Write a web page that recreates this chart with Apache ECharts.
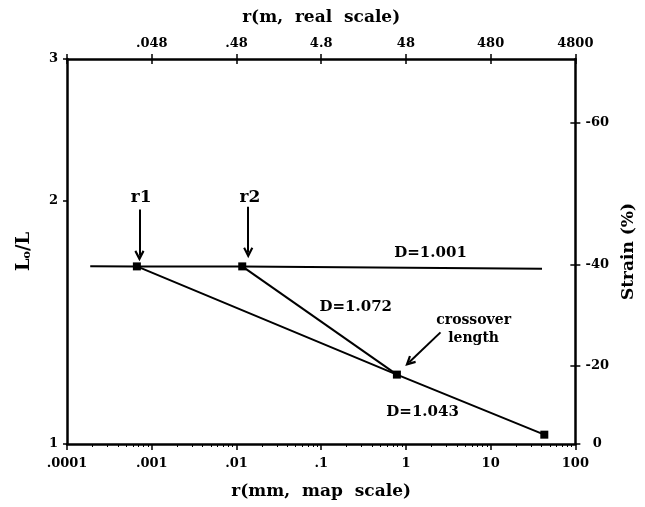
<!DOCTYPE html>
<html>
<head>
<meta charset="utf-8">
<script src="https://cdn.jsdelivr.net/npm/echarts@6/dist/echarts.min.js"></script>
<style>html,body{margin:0;padding:0;background:#fff}#c{width:645px;height:507px}</style>
</head>
<body>
<div id="c"></div>
<script>
// ---- data ----
const bottomTickLabels = ['.0001', '.001', '.01', '.1', '1', '10', '100'];
const topTickLabels = ['', '.048', '.48', '4.8', '48', '480', '4800'];
const leftTickValues = [1, 2, 3];
const strainTicks = [0, -20, -40, -60];

const d1001X = [1.88e-4, 6.68e-4, 0.0117, 40.4];
const d1001Y = [1.661, 1.660, 1.660, 1.649];
const d1072X = [0.0117, 0.783];
const d1072Y = [1.660, 1.219];
const d1043X = [6.68e-4, 0.783, 43.0];
const d1043Y = [1.660, 1.219, 1.027];
const pointX = [6.68e-4, 0.0117, 0.783, 43.0];
const pointY = [1.660, 1.660, 1.219, 1.027];

// annotation texts and anchors (data coordinates)
const noteTexts = ['r1', 'r2', 'D=1.001', 'D=1.072', 'D=1.043', 'crossover\nlength'];
const noteX = [7.5e-4, 0.01442, 1.954, 0.256, 1.574, 6.3];
const noteY = [2.02, 2.02, 1.726, 1.480, 1.094, 1.387];
const arrowFrom = [[7.16e-4, 1.952], [0.01377, 1.968], [2.56, 1.375]];
const arrowTo = [[7.16e-4, 1.711], [0.01377, 1.726], [1.094, 1.2625]];

const FF = '"DejaVu Serif", "Liberation Serif", serif';
const zip = (xs, ys) => xs.map((x, i) => [x, ys[i]]);
const decadeIndex = v => Math.round(Math.log10(v)) + 4;

const chart = echarts.init(document.getElementById('c'));
const black = '#000';
const axisLine = {show: true, lineStyle: {color: black, width: 2.5}};
const labelStyle = {color: black, fontFamily: FF, fontWeight: 'bold', fontSize: 13};
const nameStyle = {color: black, fontFamily: FF, fontWeight: 'bold', fontSize: 17};
const chevron = 'path://M5,0 L10,9 L8.2,10 L5,4.6 L1.8,10 L0,9 Z';
const strainPos = strainTicks.map(s => 100 / (100 + s));

const option = {
  animation: false,
  backgroundColor: '#fff',
  grid: {left: 67, right: 69, top: 59, bottom: 63},
  xAxis: [
    {
      type: 'log', min: 1e-4, max: 100, position: 'bottom',
      axisLine: axisLine,
      axisTick: {show: true, length: 6, lineStyle: {color: black, width: 1.5}},
      minorTick: {show: true, splitNumber: 9, length: 3, lineStyle: {color: black, width: 1}},
      axisLabel: Object.assign({margin: 13, formatter: v => bottomTickLabels[decadeIndex(v)]}, labelStyle),
      splitLine: {show: false},
      name: 'r(mm,  map  scale)', nameLocation: 'middle', nameGap: 39, nameTextStyle: nameStyle
    },
    {
      type: 'log', min: 1e-4, max: 100, position: 'top',
      axisLine: axisLine,
      axisTick: {show: true, length: 5, lineStyle: {color: black, width: 1.5}},
      axisLabel: Object.assign({margin: 9, formatter: v => topTickLabels[decadeIndex(v)]}, labelStyle),
      splitLine: {show: false},
      name: 'r(m,  real  scale)', nameLocation: 'middle', nameGap: 33, nameTextStyle: nameStyle
    },
    {
      type: 'log', min: 1e-4, max: 100, position: 'top',
      axisLine: {show: false},
      axisTick: {show: true, inside: true, length: 5, lineStyle: {color: black, width: 1.5}},
      axisLabel: {show: false},
      splitLine: {show: false}
    }
  ],
  yAxis: [
    {
      type: 'log', min: 1, max: 3, position: 'left',
      axisLine: axisLine,
      axisTick: {show: true, length: 4, customValues: leftTickValues, lineStyle: {color: black, width: 1.5}},
      axisLabel: Object.assign({margin: 9, customValues: leftTickValues, formatter: v => String(Math.round(v))}, labelStyle),
      splitLine: {show: false},
      name: '{a|L}{b|o}{a|/L}', nameLocation: 'middle', nameGap: 34, nameRotate: 90,
      nameTextStyle: Object.assign({}, nameStyle, {
        rich: {
          a: {fontFamily: FF, fontWeight: 'bold', fontSize: 18, color: black},
          b: {fontFamily: FF, fontWeight: 'bold', fontSize: 11, color: black, padding: [6, 0, 0, 0]}
        }
      })
    },
    {
      type: 'log', min: 1, max: 3, position: 'right',
      axisLine: axisLine,
      axisTick: {show: true, length: 5, customValues: strainPos, lineStyle: {color: black, width: 1.5}},
      axisLabel: Object.assign({margin: 22, align: 'center', customValues: strainPos,
        formatter: v => String(Math.round(100 / v - 100))}, labelStyle),
      splitLine: {show: false},
      name: 'Strain (%)', nameLocation: 'middle', nameGap: 33, nameRotate: 90, nameTextStyle: nameStyle
    },
    {
      type: 'log', min: 1, max: 3, position: 'right',
      axisLine: {show: false},
      axisTick: {show: true, inside: true, length: 5, customValues: strainPos.filter(v => v !== 1), lineStyle: {color: black, width: 1.5}},
      axisLabel: {show: false},
      splitLine: {show: false}
    }
  ],
  series: [
    {
      name: 'D=1.001', type: 'line', data: zip(d1001X, d1001Y), showSymbol: false,
      lineStyle: {color: black, width: 2}, silent: true,
      markLine: {
        silent: true, symbol: ['none', chevron], symbolSize: [10, 11],
        lineStyle: {color: black, width: 2, type: 'solid', opacity: 1},
        itemStyle: {color: black, opacity: 1},
        label: {show: false},
        data: arrowFrom.map((f, i) => [{coord: f}, {coord: arrowTo[i]}])
      }
    },
    {
      name: 'D=1.072', type: 'line', data: zip(d1072X, d1072Y), showSymbol: false,
      lineStyle: {color: black, width: 2}, silent: true
    },
    {
      name: 'D=1.043', type: 'line', data: zip(d1043X, d1043Y), showSymbol: false,
      lineStyle: {color: black, width: 2}, silent: true
    },
    {
      name: 'points', type: 'scatter', data: zip(pointX, pointY), symbol: 'rect', symbolSize: 8,
      itemStyle: {color: black, opacity: 1}, silent: true, z: 5
    },
    {
      name: 'notes', type: 'scatter', symbolSize: 1, itemStyle: {color: 'rgba(0,0,0,0)', opacity: 1}, silent: true,
      data: noteTexts.map((t, i) => ({value: [noteX[i], noteY[i]], name: t})),
      label: {
        show: true, position: 'inside', formatter: p => p.name,
        color: black, opacity: 1, fontFamily: FF, fontWeight: 'bold', fontSize: 15, lineHeight: 18
      },
      labelLayout: {hideOverlap: false}
    }
  ]
};
// per-note font sizes
option.series[4].data[0].label = {fontSize: 17};
option.series[4].data[1].label = {fontSize: 17};
option.series[4].data[5].label = {fontSize: 14, lineHeight: 18};
chart.setOption(option);
</script>
</body>
</html>
